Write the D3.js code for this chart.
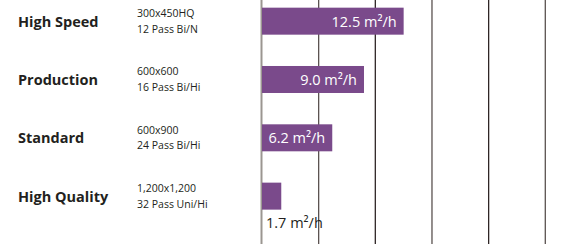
<!DOCTYPE html>
<html><head><meta charset="utf-8">
<script src="https://cdn.jsdelivr.net/npm/d3@7"></script>
<style>
html,body{margin:0;padding:0;background:#fff;}
svg{display:block;}
text{font-family:"Open Sans","Lato",sans-serif;}
</style></head>
<body>
<svg id="chart" width="570" height="248"></svg>
<script>
const categories = ["High Speed", "Production", "Standard", "High Quality"];
const resolutions = ["300x450HQ", "600x600", "600x900", "1,200x1,200"];
const passModes = ["12 Pass Bi/N", "16 Pass Bi/Hi", "24 Pass Bi/Hi", "32 Pass Uni/Hi"];
const values = [12.5, 9.0, 6.2, 1.7];
const gridTicks = [0, 5, 10, 15, 20, 25];
const unit = "m²/h";

const svg = d3.select("#chart");
const x = d3.scaleLinear().domain([0, 25]).range([262, 545.3]);
const y = d3.scaleBand().domain(categories).range([-8, 225.3]).padding(0);
const barH = 27;

// grid lines
svg.append("g").selectAll("line").data(gridTicks).join("line")
  .attr("x1", d => x(d) + (d === 0 ? -0.5 : 0)).attr("x2", d => x(d) + (d === 0 ? -0.5 : 0))
  .attr("y1", 0).attr("y2", 244)
  .attr("stroke", (d, i) => d === 0 ? "#9b9691" : (i % 2 === 0 ? "#2f2626" : "#5a5250"))
  .attr("stroke-width", d => d === 0 ? 2 : 1.3);

const rows = svg.append("g").selectAll("g").data(categories).join("g")
  .attr("transform", d => `translate(0,${y(d) + y.bandwidth() / 2})`);

rows.append("text").text(d => d)
  .attr("x", 18).attr("y", 5.5)
  .attr("font-size", 14.5).attr("font-weight", "bold").attr("fill", "#231f20");

rows.append("text").text((d, i) => resolutions[i])
  .attr("x", 137).attr("y", -4)
  .attr("font-size", 10.5).attr("fill", "#231f20");
rows.append("text").text((d, i) => passModes[i])
  .attr("x", 137).attr("y", 11.5)
  .attr("font-size", 10.5).attr("fill", "#231f20");

rows.append("rect")
  .attr("x", x(0)).attr("y", -barH / 2)
  .attr("width", (d, i) => x(values[i]) - x(0)).attr("height", barH)
  .attr("fill", "#7a4a8b");

rows.append("text")
  .text((d, i) => values[i].toFixed(1) + " " + unit)
  .attr("x", (d, i) => values[i] > 4 ? x(values[i]) - 7 : x(0) + 4)
  .attr("y", (d, i) => values[i] > 4 ? 5.5 : barH / 2 + 18)
  .attr("text-anchor", (d, i) => values[i] > 4 ? "end" : "start")
  .attr("font-size", 14.5)
  .attr("fill", (d, i) => values[i] > 4 ? "#ffffff" : "#231f20");
</script>
</body></html>
